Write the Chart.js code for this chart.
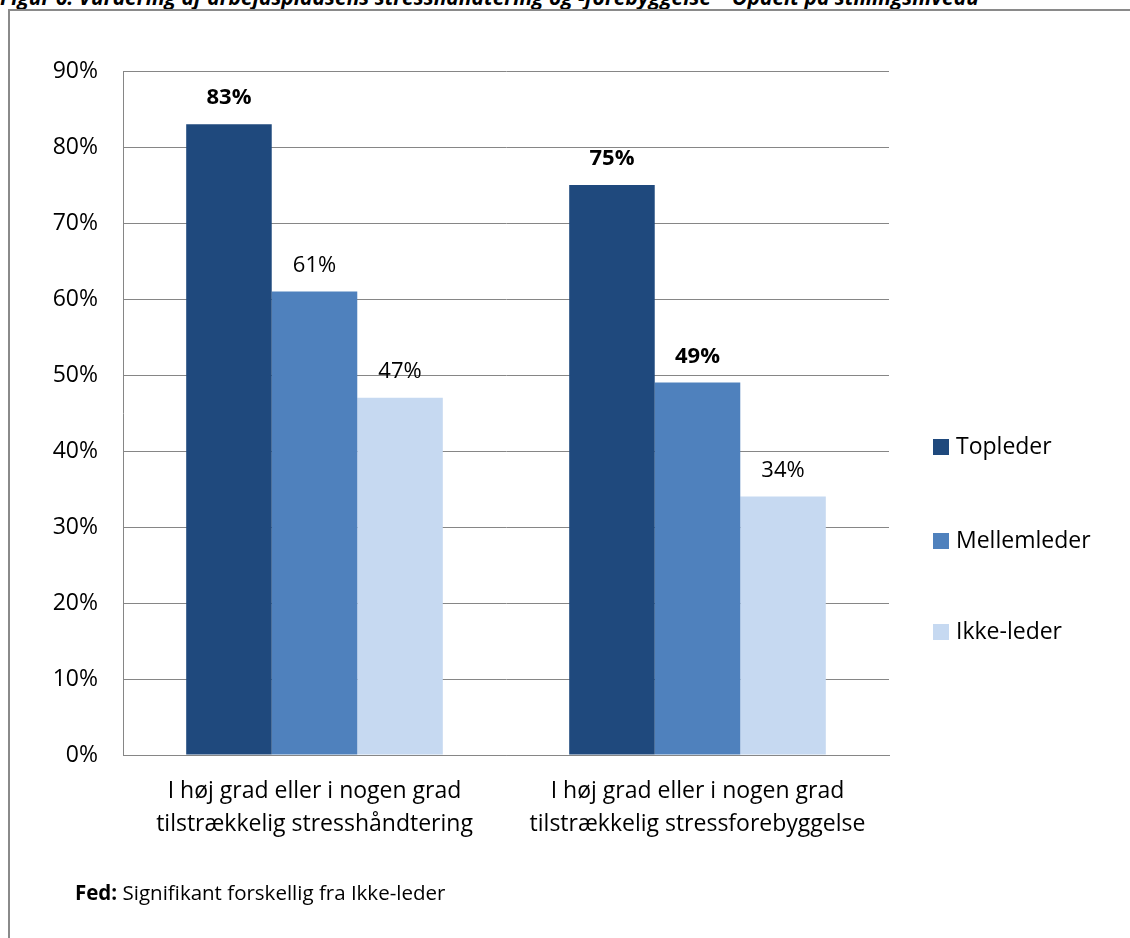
<!DOCTYPE html>
<html lang="da">
<head>
<meta charset="utf-8">
<script src="https://cdn.jsdelivr.net/npm/chart.js@4.4.1/dist/chart.umd.min.js"></script>
<style>
  html, body { margin: 0; padding: 0; background: #fff; width: 1130px; height: 938px; overflow: hidden; }
  body { position: relative; font-family: "Open Sans", sans-serif; }
  .title {
    position: absolute; left: 0; top: -13px; white-space: nowrap;
    font: italic bold 21px "Open Sans", sans-serif; line-height: 21px; color: #000;
  }
  .frame {
    position: absolute; left: 8px; top: 9px; width: 1200px; height: 1000px;
    border-left: 2px solid #8a8a8a; border-top: 2px solid #8a8a8a;
  }
  #chart { position: absolute; left: 10px; top: 11px; }
  .note { position: absolute; left: 75px; top: 879px; font-size: 20.5px; line-height: 26px; color: #000; white-space: nowrap; }
</style>
</head>
<body>
<div class="title">Figur 6: Vurdering af arbejdspladsens stresshåndtering og -forebyggelse – Opdelt på stillingsniveau</div>
<div class="frame"></div>
<canvas id="chart" width="1120" height="927"></canvas>
<div class="note"><b>Fed:</b> Signifikant forskellig fra Ikke-leder</div>
<script>
// Categories and series (percent)
const categories = [
  ['I høj grad eller i nogen grad', 'tilstrækkelig stresshåndtering'],
  ['I høj grad eller i nogen grad', 'tilstrækkelig stressforebyggelse']
]
const seriesNames = ['Topleder', 'Mellemleder', 'Ikke-leder']
const topleder = [83, 75]
const mellemleder = [61, 49]
const ikkeLeder = [47, 34]
// Bold label = significantly different from Ikke-leder
const toplederBold = [true, true]
const mellemlederBold = [false, true]
const ikkeLederBold = [false, false]
const yTicks = [0, 10, 20, 30, 40, 50, 60, 70, 80, 90]

const colors = ['#1f497d', '#4f81bd', '#c6d9f1']
const FONT = '"Open Sans", sans-serif'

const boldFlags = [toplederBold, mellemlederBold, ikkeLederBold]

// value labels above each bar
const barLabels = {
  id: 'barLabels',
  afterDatasetsDraw(chart) {
    const ctx = chart.ctx
    ctx.save()
    ctx.fillStyle = '#000'
    ctx.textAlign = 'center'
    ctx.textBaseline = 'middle'
    chart.data.datasets.forEach((ds, i) => {
      chart.getDatasetMeta(i).data.forEach((bar, j) => {
        ctx.font = (boldFlags[i][j] ? 'bold ' : '') + '22px ' + FONT
        ctx.fillText(ds.data[j] + '%', bar.x, bar.y - 26)
      })
    })
    ctx.restore()
  }
}

// legend on the right, one entry per series
const sideLegend = {
  id: 'sideLegend',
  afterDraw(chart) {
    const ctx = chart.ctx
    const rows = [436, 530, 621]
    ctx.save()
    ctx.font = '23px ' + FONT
    ctx.textBaseline = 'middle'
    chart.data.datasets.forEach((ds, i) => {
      ctx.fillStyle = ds.backgroundColor
      ctx.fillRect(923, rows[i] - 8, 16, 16)
      ctx.fillStyle = '#000'
      ctx.fillText(ds.label, 946, rows[i])
    })
    ctx.restore()
  }
}

new Chart(document.getElementById('chart'), {
  type: 'bar',
  data: {
    labels: categories,
    datasets: seriesNames.map((name, i) => ({
      label: name,
      data: [topleder, mellemleder, ikkeLeder][i],
      backgroundColor: colors[i],
      borderWidth: 0,
      categoryPercentage: 0.67,
      barPercentage: 1
    }))
  },
  options: {
    responsive: false,
    devicePixelRatio: 1,
    animation: false,
    layout: { padding: { top: 60, right: 241, left: 0, bottom: 0 } },
    plugins: {
      legend: { display: false },
      tooltip: { enabled: false }
    },
    scales: {
      x: {
        grid: { display: false, drawTicks: false },
        border: { display: true, color: '#868686', width: 1 },
        ticks: {
          color: '#000',
          padding: 20,
          font: { family: FONT, size: 23, lineHeight: 1.43 },
          maxRotation: 0
        },
        afterFit(scale) { scale.height = 183 }
      },
      y: {
        min: 0,
        max: 90,
        afterBuildTicks(scale) { scale.ticks = yTicks.map(v => ({ value: v })) },
        grid: { color: '#868686', lineWidth: 1, drawTicks: false },
        border: { display: true, color: '#868686', width: 1 },
        ticks: {
          color: '#000',
          padding: 25,
          font: { family: FONT, size: 23 },
          callback: v => v + '%'
        },
        afterFit(scale) { scale.width = 113 }
      }
    }
  },
  plugins: [barLabels, sideLegend]
})
</script>
</body>
</html>
